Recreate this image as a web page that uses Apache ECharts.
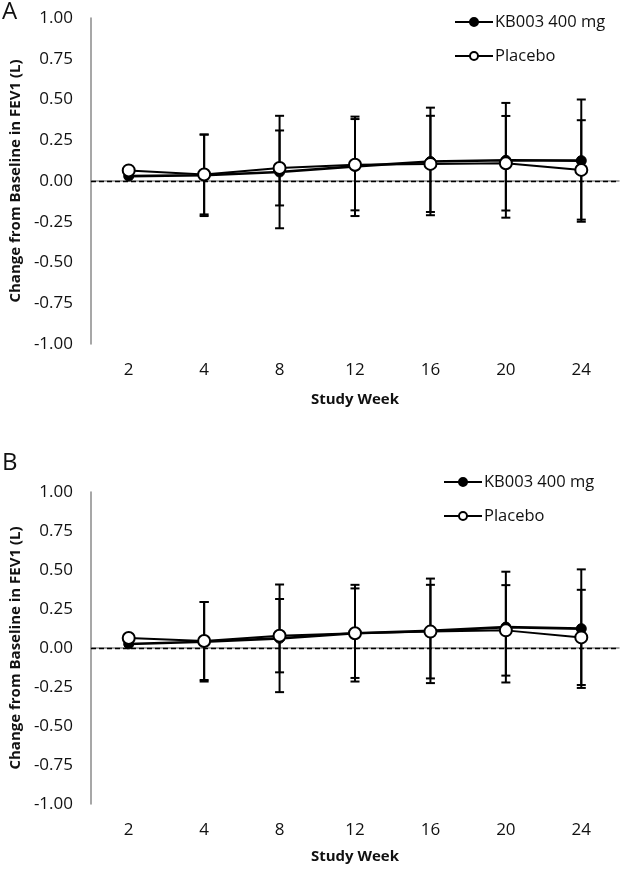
<!DOCTYPE html>
<html>
<head>
<meta charset="utf-8">
<script src="https://cdn.jsdelivr.net/npm/echarts@6/dist/echarts.min.js"></script>
<style>html,body{margin:0;padding:0;background:#fff}#c{width:621px;height:870px}</style>
</head>
<body>
<div id="c"></div>
<script>
var weeks = ['2', '4', '8', '12', '16', '20', '24'];
var yTicks = [-1, -0.75, -0.5, -0.25, 0, 0.25, 0.5, 0.75, 1];

// Panel A
var kbA = [0.03, 0.035, 0.055, 0.09, 0.12, 0.127, 0.125];
var kbAErr = [null, 0.25, 0.345, 0.305, 0.33, 0.352, 0.375];
var pbA = [0.065, 0.04, 0.08, 0.10, 0.105, 0.109, 0.068];
var pbAErr = [null, 0.245, 0.23, 0.28, 0.295, 0.29, 0.305];

// Panel B
var kbB = [0.026, 0.04, 0.062, 0.095, 0.11, 0.134, 0.124];
var kbBErr = [null, 0.255, 0.345, 0.31, 0.335, 0.355, 0.38];
var pbB = [0.064, 0.045, 0.079, 0.095, 0.105, 0.113, 0.068];
var pbBErr = [null, 0.25, 0.235, 0.287, 0.30, 0.29, 0.305];

var FONT = '"Open Sans", "Noto Sans", sans-serif';
var AXIS_GRAY = '#8a8a8a';

function errData(vals, errs) {
  var out = [];
  for (var i = 0; i < vals.length; i++) {
    if (errs[i] != null) out.push([i, vals[i] - errs[i], vals[i] + errs[i]]);
  }
  return out;
}

function errSeries(vals, errs, idx) {
  return {
    type: 'custom',
    xAxisIndex: idx, yAxisIndex: idx,
    z: 1,
    silent: true,
    data: errData(vals, errs),
    renderItem: function (params, api) {
      var x = api.value(0);
      var lo = api.coord([x, api.value(1)]);
      var hi = api.coord([x, api.value(2)]);
      var hw = 4.5;
      var st = { stroke: '#000', lineWidth: 2 };
      return {
        type: 'group',
        children: [
          { type: 'line', shape: { x1: lo[0], y1: lo[1], x2: hi[0], y2: hi[1] }, style: st },
          { type: 'line', shape: { x1: lo[0] - hw, y1: lo[1], x2: lo[0] + hw, y2: lo[1] }, style: st },
          { type: 'line', shape: { x1: hi[0] - hw, y1: hi[1], x2: hi[0] + hw, y2: hi[1] }, style: st }
        ]
      };
    }
  };
}

function kbSeries(vals, idx) {
  return {
    name: 'KB003 400 mg', type: 'line', xAxisIndex: idx, yAxisIndex: idx,
    data: vals, z: 3,
    symbol: 'circle', symbolSize: 10,
    lineStyle: { color: '#000', width: 2.6 },
    itemStyle: { color: '#000', borderColor: '#000', borderWidth: 1 },
    emphasis: { disabled: true },
    markLine: {
      silent: true, symbol: 'none', label: { show: false },
      lineStyle: { color: '#000', type: [5, 3], width: 1.3 },
      data: [{ yAxis: 0 }]
    }
  };
}

function pbSeries(vals, idx) {
  return {
    name: 'Placebo', type: 'line', xAxisIndex: idx, yAxisIndex: idx,
    data: vals, z: 4,
    symbol: 'circle', symbolSize: 12,
    lineStyle: { color: '#000', width: 2 },
    itemStyle: { color: '#fff', borderColor: '#000', borderWidth: 2 },
    emphasis: { disabled: true }
  };
}

function xAxis(idx, nameGap) {
  return {
    type: 'category', gridIndex: idx, data: weeks, boundaryGap: true,
    axisTick: { show: false },
    axisLine: { lineStyle: { color: AXIS_GRAY, width: 1.5 } },
    axisLabel: { fontSize: 17, color: '#111', fontFamily: FONT, margin: 18 },
    name: 'Study Week', nameLocation: 'middle', nameGap: nameGap,
    nameTextStyle: { fontSize: 15, fontWeight: 'bold', color: '#111', fontFamily: FONT }
  };
}

function yAxis(idx) {
  return {
    type: 'value', gridIndex: idx, min: yTicks[0], max: yTicks[yTicks.length - 1],
    interval: yTicks[1] - yTicks[0],
    splitLine: { show: false },
    axisTick: { show: false },
    axisLine: { show: true, lineStyle: { color: AXIS_GRAY, width: 1.5 } },
    axisLabel: { fontSize: 17, color: '#111', fontFamily: FONT, margin: 18,
      formatter: function (v) { return v.toFixed(2); } },
    name: 'Change from Baseline in FEV1 (L)', nameLocation: 'middle', nameRotate: 90, nameGap: 60,
    nameTextStyle: { fontSize: 15, fontWeight: 'bold', color: '#111', fontFamily: FONT }
  };
}

function legend(left, top) {
  return {
    left: left, top: top, orient: 'vertical',
    itemWidth: 38, itemHeight: 10, itemGap: 14,
    textStyle: { fontSize: 16.5, color: '#111', fontFamily: FONT, lineHeight: 20, padding: [0, 0, 0, -3] },
    selectedMode: false,
    data: ['KB003 400 mg', 'Placebo']
  };
}

var chart = echarts.init(document.getElementById('c'), null, { renderer: 'canvas' });
chart.setOption({
  backgroundColor: '#fff',
  animation: false,
  textStyle: { fontFamily: FONT },
  grid: [
    { left: 89, top: 18, width: 530, height: 326 },
    { left: 89, top: 492, width: 530, height: 312 }
  ],
  xAxis: [xAxis(0, 48), xAxis(1, 45)],
  yAxis: [yAxis(0), yAxis(1)],
  legend: [legend(449, 7), legend(438, 467)],
  graphic: [
    { type: 'text', left: 2, top: 0, style: { text: 'A', fontSize: 24, fill: '#111', fontFamily: FONT } },
    { type: 'text', left: 2, top: 451, style: { text: 'B', fontSize: 24, fill: '#111', fontFamily: FONT } }
  ],
  series: [
    errSeries(kbA, kbAErr, 0),
    errSeries(pbA, pbAErr, 0),
    kbSeries(kbA, 0),
    pbSeries(pbA, 0),
    errSeries(kbB, kbBErr, 1),
    errSeries(pbB, pbBErr, 1),
    kbSeries(kbB, 1),
    pbSeries(pbB, 1)
  ]
});
</script>
</body>
</html>
